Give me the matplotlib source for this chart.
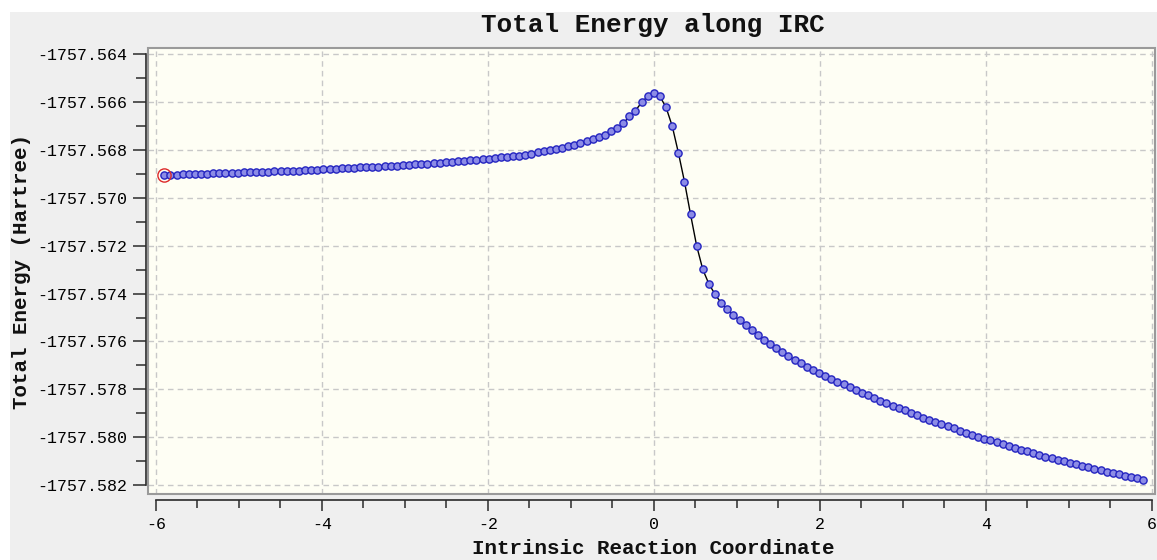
import matplotlib
matplotlib.use("Agg")
import matplotlib.pyplot as plt
import numpy as np
from matplotlib.patches import Rectangle
from matplotlib.ticker import MultipleLocator, FormatStrFormatter

# IRC energies (Hartree), reactant side -> TS -> product side
energy = [
    -1757.569044, -1757.569036, -1757.569028, -1757.569020, -1757.569012,
    -1757.569004, -1757.568996, -1757.568988, -1757.568981, -1757.568973,
    -1757.568965, -1757.568957, -1757.568948, -1757.568939, -1757.568929,
    -1757.568920, -1757.568911, -1757.568902, -1757.568893, -1757.568883,
    -1757.568874, -1757.568865, -1757.568857, -1757.568845, -1757.568832,
    -1757.568819, -1757.568806, -1757.568793, -1757.568781, -1757.568768,
    -1757.568755, -1757.568742, -1757.568730, -1757.568717, -1757.568704,
    -1757.568691, -1757.568678, -1757.568666, -1757.568653, -1757.568637,
    -1757.568619, -1757.568601, -1757.568583, -1757.568565, -1757.568546,
    -1757.568528, -1757.568510, -1757.568491, -1757.568473, -1757.568456,
    -1757.568435, -1757.568410, -1757.568384, -1757.568359, -1757.568333,
    -1757.568308, -1757.568282, -1757.568257, -1757.568231, -1757.568189,
    -1757.568146, -1757.568100, -1757.568041, -1757.568003, -1757.567966,
    -1757.567911, -1757.567849, -1757.567778, -1757.567698, -1757.567623,
    -1757.567540, -1757.567452, -1757.567356, -1757.567226, -1757.567067,
    -1757.566883, -1757.566599, -1757.566349, -1757.566014, -1757.565755,
    -1757.565630,
    -1757.565763, -1757.566223, -1757.566996, -1757.568104, -1757.569316,
    -1757.570695, -1757.572011, -1757.572993, -1757.573599, -1757.574029,
    -1757.574393, -1757.574664, -1757.574894, -1757.575124, -1757.575333,
    -1757.575542, -1757.575738, -1757.575931, -1757.576114, -1757.576290,
    -1757.576457, -1757.576616, -1757.576766, -1757.576913, -1757.577051,
    -1757.577184, -1757.577311, -1757.577436, -1757.577558, -1757.577679,
    -1757.577798, -1757.577915, -1757.578030, -1757.578143, -1757.578254,
    -1757.578364, -1757.578471, -1757.578578, -1757.578682, -1757.578784,
    -1757.578886, -1757.578985, -1757.579083, -1757.579179, -1757.579273,
    -1757.579367, -1757.579458, -1757.579548, -1757.579637, -1757.579724,
    -1757.579810, -1757.579895, -1757.579978, -1757.580060, -1757.580140,
    -1757.580219, -1757.580297, -1757.580374, -1757.580449, -1757.580524,
    -1757.580596, -1757.580668, -1757.580739, -1757.580809, -1757.580877,
    -1757.580944, -1757.581011, -1757.581076, -1757.581140, -1757.581203,
    -1757.581265, -1757.581326, -1757.581386, -1757.581446, -1757.581504,
    -1757.581561, -1757.581617, -1757.581672, -1757.581727, -1757.581781,
]
# IRC points are evenly spaced in the reaction coordinate
irc_start, irc_end = -5.9, 5.9
irc_x = np.linspace(irc_start, irc_end, len(energy))

x_ticks = [-6, -4, -2, 0, 2, 4, 6]
y_ticks = [-1757.564, -1757.566, -1757.568, -1757.570, -1757.572,
           -1757.574, -1757.576, -1757.578, -1757.580, -1757.582]

plt.rcParams['font.family'] = ['Liberation Mono', 'DejaVu Sans Mono']
plt.rcParams['axes.unicode_minus'] = False

W, H = 1157, 560
fig = plt.figure(figsize=(W / 100, H / 100), dpi=100)
fig.patch.set_facecolor('white')
fig.add_artist(Rectangle((10 / W, 0), 1 - 10 / W, 1 - 12 / H,
                         transform=fig.transFigure, facecolor='#efefef',
                         edgecolor='none', zorder=-5))

ax = fig.add_axes([148.3 / W, 1 - 494 / H, (1155 - 148.3) / W, (494 - 48.3) / H])
ax.set_facecolor('#fefef4')

ax.plot(irc_x, energy, color='black', lw=1.0, zorder=3,
        marker='o', ms=5.2, mfc='#8c8ce6', mec='#2424c0', mew=1.0)
ax.plot(irc_x[0], energy[0], 'o', ms=9.5, mfc='none', mec='#dd2a2a', mew=1.0, zorder=4)

ax.set_xlim(-6.0928, 6.0398)
ax.set_ylim(-1757.582376, -1757.5637492)

ax.set_xticks(x_ticks)
ax.set_yticks(y_ticks)
ax.xaxis.set_minor_locator(MultipleLocator(0.5))
ax.yaxis.set_minor_locator(MultipleLocator(0.001))
ax.yaxis.set_major_formatter(FormatStrFormatter('%.3f'))

ax.grid(True, which='major', color='#c8c8c8', linestyle=(0, (4, 3)), lw=1.0)
ax.set_axisbelow(True)

for s in ['top', 'right']:
    ax.spines[s].set_visible(False)
ax.spines['left'].set_position(('outward', 2))
ax.spines['bottom'].set_position(('outward', 4))
ax.spines['left'].set_bounds(y_ticks[-1], y_ticks[0])
ax.spines['bottom'].set_bounds(x_ticks[0], x_ticks[-1])
for s in ['left', 'bottom']:
    ax.spines[s].set_color('#2a2a2a')
    ax.spines[s].set_linewidth(1.2)

ax.tick_params(axis='y', which='major', direction='out', length=9.5, width=1.1,
               color='#2a2a2a', labelsize=12, pad=3.5)
ax.tick_params(axis='y', which='minor', direction='out', length=7, width=1.1,
               color='#2a2a2a')
ax.tick_params(axis='x', which='major', direction='out', length=8, width=1.1,
               color='#2a2a2a', labelsize=12, pad=4.5)
ax.tick_params(axis='x', which='minor', direction='out', length=5.5, width=1.1,
               color='#2a2a2a')

# grey frame around the plot area
ax.add_patch(Rectangle((0, 0), 1, 1, transform=ax.transAxes, fill=False,
                       edgecolor='#9a9a9a', lw=1.5, clip_on=False, zorder=5))

fig.text(653 / W, 1 - 25 / H, 'Total Energy along IRC', ha='center', va='center',
         fontsize=18.7, fontweight='bold', color='#111111')
fig.text(653 / W, 1 - 548 / H, 'Intrinsic Reaction Coordinate', ha='center',
         va='center', fontsize=15, fontweight='bold', color='#111111')
fig.text(22 / W, 1 - 271 / H, 'Total Energy (Hartree)', ha='center', va='center',
         rotation=90, fontsize=15, fontweight='bold', color='#111111')

fig.savefig('out.png', dpi=100)
